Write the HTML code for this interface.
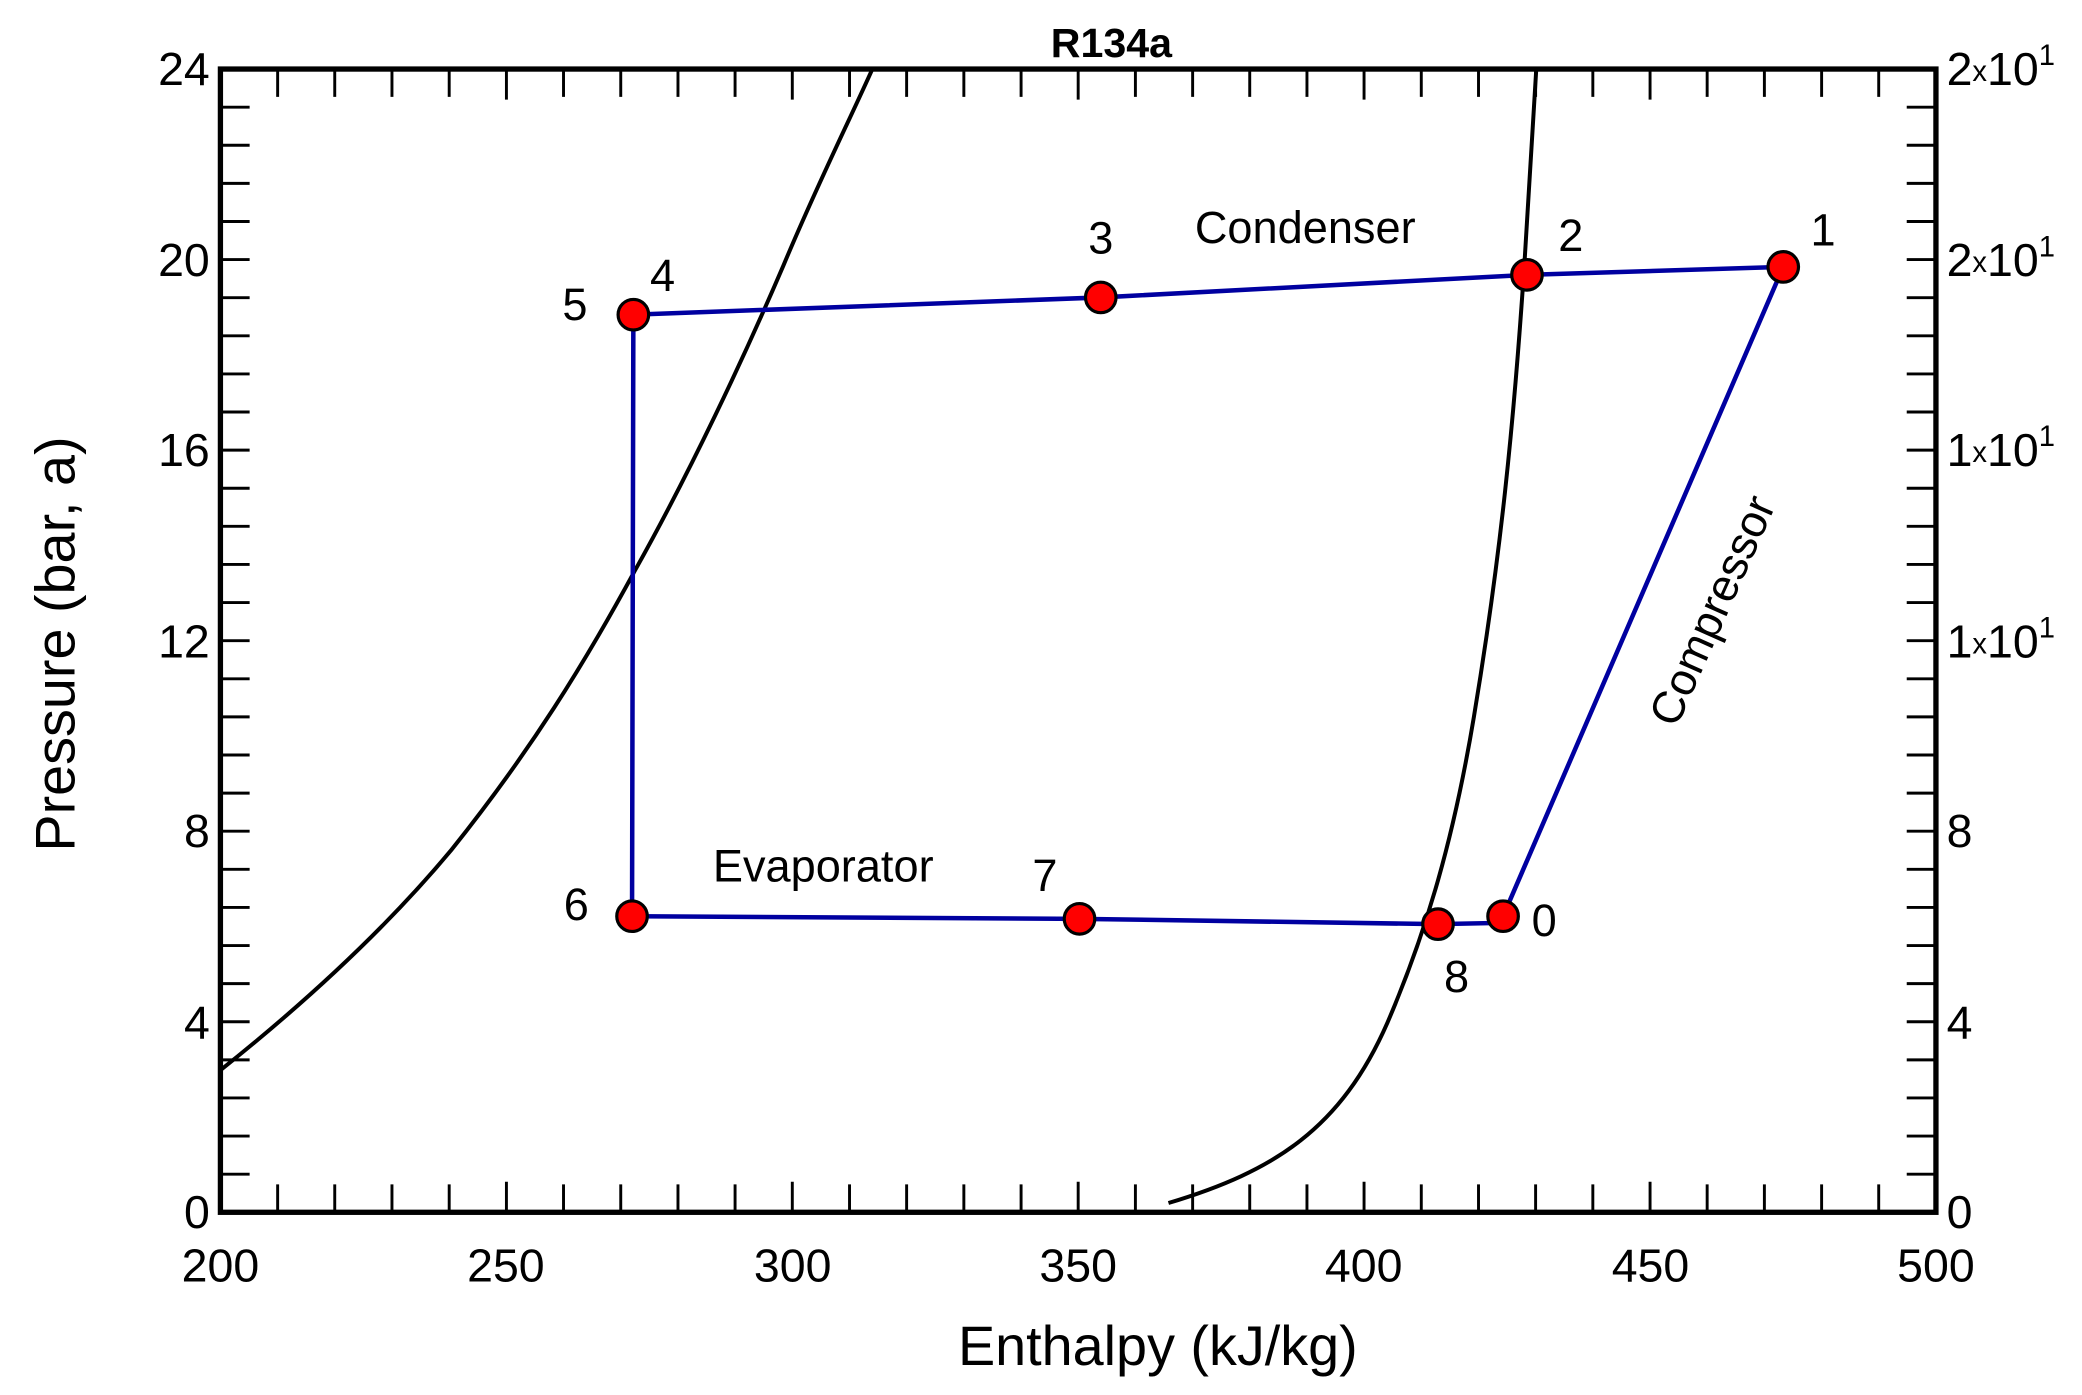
<!DOCTYPE html>
<html><head><meta charset="utf-8"><style>html,body{margin:0;padding:0;background:#fff}svg{display:block}</style></head>
<body>
<svg width="2082" height="1395" viewBox="0 0 1568 1050.6" xmlns="http://www.w3.org/2000/svg" font-family="Liberation Sans, Arial, sans-serif">
<rect width="1568" height="1051" fill="#fff"/>
<g stroke="#000" stroke-width="2.2">
<path d="M209.1 913v-21M252.1 913v-21M295.2 913v-21M338.3 913v-21M381.4 913v-23M424.4 913v-21M467.5 913v-21M510.6 913v-21M553.6 913v-21M596.7 913v-23M639.8 913v-21M682.8 913v-21M725.9 913v-21M769 913v-21M812 913v-23M855.1 913v-21M898.2 913v-21M941.2 913v-21M984.3 913v-21M1027.3 913v-23M1070.4 913v-21M1113.5 913v-21M1156.5 913v-21M1199.6 913v-21M1242.7 913v-23M1285.7 913v-21M1328.8 913v-21M1371.9 913v-21M1414.9 913v-21"/>
<path d="M209.1 52v21M252.1 52v21M295.2 52v21M338.3 52v21M381.4 52v23M424.4 52v21M467.5 52v21M510.6 52v21M553.6 52v21M596.7 52v23M639.8 52v21M682.8 52v21M725.9 52v21M769 52v21M812 52v23M855.1 52v21M898.2 52v21M941.2 52v21M984.3 52v21M1027.3 52v23M1070.4 52v21M1113.5 52v21M1156.5 52v21M1199.6 52v21M1242.7 52v23M1285.7 52v21M1328.8 52v21M1371.9 52v21M1414.9 52v21"/>
<path d="M166 884.3h22M166 855.6h22M166 826.9h22M166 798.2h22M166 769.5h22M166 740.8h22M166 712.1h22M166 683.4h22M166 654.7h22M166 626h22M166 597.3h22M166 568.6h22M166 539.9h22M166 511.2h22M166 482.5h22M166 453.8h22M166 425.1h22M166 396.4h22M166 367.7h22M166 339h22M166 310.3h22M166 281.6h22M166 252.9h22M166 224.2h22M166 195.5h22M166 166.8h22M166 138.1h22M166 109.4h22M166 80.7h22"/>
<path d="M1458 884.3h-22M1458 855.6h-22M1458 826.9h-22M1458 798.2h-22M1458 769.5h-22M1458 740.8h-22M1458 712.1h-22M1458 683.4h-22M1458 654.7h-22M1458 626h-22M1458 597.3h-22M1458 568.6h-22M1458 539.9h-22M1458 511.2h-22M1458 482.5h-22M1458 453.8h-22M1458 425.1h-22M1458 396.4h-22M1458 367.7h-22M1458 339h-22M1458 310.3h-22M1458 281.6h-22M1458 252.9h-22M1458 224.2h-22M1458 195.5h-22M1458 166.8h-22M1458 138.1h-22M1458 109.4h-22M1458 80.7h-22"/>
</g>
<path d="M166 806 C230 755 290 700 340 640 C400 565 440 500 478 430 C520 355 560 270 590 200 C615 140 640 90 657 52" fill="none" stroke="#000" stroke-width="3"/>
<path d="M880 906 C960 882 1010 850 1045 770 C1075 700 1095 630 1110 540 C1130 420 1140 320 1148 200 C1152 130 1155 90 1157 52" fill="none" stroke="#000" stroke-width="3"/>
<path d="M477 237 L829 224 L1150 207 L1343 201 L1132 690 L1132 695 L1083 696 L813 692 L476 690 Z" fill="none" stroke="#0000a0" stroke-width="3.4"/>
<g fill="#ff0000" stroke="#000" stroke-width="2.4">
<circle cx="1343" cy="201" r="11.5"/><circle cx="1150" cy="207" r="11.5"/><circle cx="829" cy="224" r="11.5"/><circle cx="477" cy="237" r="11.5"/>
<circle cx="476" cy="690" r="11.5"/><circle cx="813" cy="692" r="11.5"/><circle cx="1083" cy="696" r="11.5"/><circle cx="1132" cy="690" r="11.5"/>
</g>
<rect x="166" y="52" width="1292" height="861" fill="none" stroke="#000" stroke-width="4"/>
<g font-size="34" fill="#000" text-anchor="middle">
<text x="1373" y="185">1</text><text x="1183" y="189">2</text><text x="829" y="191">3</text>
<text x="499" y="219">4</text><text x="433" y="241">5</text><text x="434" y="693">6</text>
<text x="787" y="671">7</text><text x="1097" y="747">8</text><text x="1163" y="705">0</text>
<text x="983" y="183">Condenser</text><text x="620" y="664">Evaporator</text>
<text transform="translate(1290,460) rotate(-66)" x="0" y="11">Compressor</text>
</g>
<text x="837" y="43" font-size="31" font-weight="bold" text-anchor="middle">R134a</text>
<g font-size="35" text-anchor="middle">
<text x="166" y="965">200</text><text x="381" y="965">250</text><text x="597" y="965">300</text><text x="812" y="965">350</text><text x="1027" y="965">400</text><text x="1243" y="965">450</text><text x="1458" y="965">500</text>
</g>
<g font-size="35" text-anchor="end">
<text x="158" y="925">0</text><text x="158" y="782">4</text><text x="158" y="638">8</text><text x="158" y="495">12</text><text x="158" y="351">16</text><text x="158" y="208">20</text><text x="158" y="64">24</text>
</g>
<g font-size="35">
<text x="1466" y="925">0</text><text x="1466" y="782">4</text><text x="1466" y="638">8</text>
<text x="1466" y="495">1<tspan font-size="22" dy="-3">x</tspan><tspan dy="3">10</tspan><tspan font-size="22" dy="-15">1</tspan></text>
<text x="1466" y="351">1<tspan font-size="22" dy="-3">x</tspan><tspan dy="3">10</tspan><tspan font-size="22" dy="-15">1</tspan></text>
<text x="1466" y="208">2<tspan font-size="22" dy="-3">x</tspan><tspan dy="3">10</tspan><tspan font-size="22" dy="-15">1</tspan></text>
<text x="1466" y="64">2<tspan font-size="22" dy="-3">x</tspan><tspan dy="3">10</tspan><tspan font-size="22" dy="-15">1</tspan></text>
</g>
<text x="872" y="1028" font-size="42" text-anchor="middle">Enthalpy (kJ/kg)</text>
<text transform="translate(56,485) rotate(-90)" font-size="42" text-anchor="middle">Pressure (bar, a)</text>
</svg>
</body></html>
